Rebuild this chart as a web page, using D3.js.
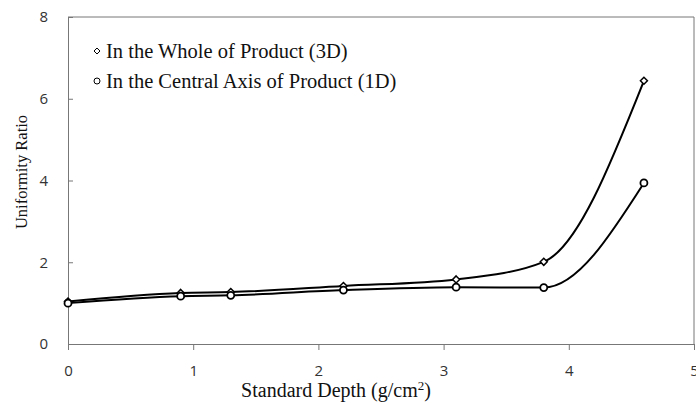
<!DOCTYPE html>
<html>
<head>
<meta charset="utf-8">
<script src="https://cdn.jsdelivr.net/npm/d3@7"></script>
<style>
  body { margin: 0; background: #fff; }
  .tick text { font-family: "Open Sans", sans-serif; font-size: 15px; fill: #333; }
  .title { font-family: "Liberation Serif", serif; fill: #111; }
  .legend { font-family: "Liberation Serif", serif; font-size: 20.5px; fill: #111; }
</style>
</head>
<body>
<div id="chart"></div>
<script>
const depths = [0, 0.9, 1.3, 2.2, 3.1, 3.8, 4.6];
const whole3D = [1.04, 1.25, 1.27, 1.42, 1.58, 2.01, 6.44];
const central1D = [1.0, 1.17, 1.19, 1.32, 1.39, 1.38, 3.94];
const xTicks = [0, 1, 2, 3, 4, 5];
const yTicks = [0, 2, 4, 6, 8];
const seriesNames = ['In the Whole of Product (3D)', 'In the Central Axis of Product (1D)'];

const width = 696, height = 403;
const margin = { top: 17, right: 2, bottom: 59, left: 68 };

const svg = d3.select('#chart').append('svg')
  .attr('width', width)
  .attr('height', height);

const x = d3.scaleLinear().domain([0, 5]).range([margin.left, width - margin.right]);
const y = d3.scaleLinear().domain([0, 8]).range([height - margin.bottom, margin.top]);

// frame (top + right)
svg.append('path')
  .attr('d', `M${x(0)},${y(8)}H${x(5)}V${y(0)}`)
  .attr('fill', 'none')
  .attr('stroke', '#777')
  .attr('stroke-width', 1);

const xAxis = svg.append('g')
  .attr('transform', `translate(0,${y(0)})`)
  .call(d3.axisBottom(x).tickValues(xTicks).tickFormat(d3.format('d')).tickSizeOuter(0).tickSize(6).tickPadding(15));

const yAxis = svg.append('g')
  .attr('transform', `translate(${x(0)},0)`)
  .call(d3.axisLeft(y).tickValues(yTicks).tickSizeOuter(0).tickSize(-5).tickPadding(20));

[xAxis, yAxis].forEach(ax => {
  ax.select('.domain').attr('stroke', '#777');
  ax.selectAll('.tick line').attr('stroke', '#777');
});

const line = d3.line()
  .x((d, i) => x(depths[i]))
  .y(d => y(d))
  .curve(d3.curveMonotoneX);

[whole3D, central1D].forEach(vals => {
  svg.append('path')
    .datum(vals)
    .attr('d', line)
    .attr('fill', 'none')
    .attr('stroke', '#000')
    .attr('stroke-width', 2);
});

const diamond = s => `M0,${-s}L${s},0L0,${s}L${-s},0Z`;

// markers
svg.selectAll('.m3d')
  .data(whole3D)
  .enter().append('path')
  .attr('class', 'm3d')
  .attr('transform', (d, i) => `translate(${x(depths[i])},${y(d)})`)
  .attr('d', diamond(3.5))
  .attr('fill', '#fff')
  .attr('stroke', '#000')
  .attr('stroke-width', 1.5);

svg.selectAll('.m1d')
  .data(central1D)
  .enter().append('circle')
  .attr('class', 'm1d')
  .attr('cx', (d, i) => x(depths[i]))
  .attr('cy', d => y(d))
  .attr('r', 3.5)
  .attr('fill', '#fff')
  .attr('stroke', '#000')
  .attr('stroke-width', 1.8);

// legend
const legend = svg.append('g').attr('transform', 'translate(97,51)');
seriesNames.forEach((name, i) => {
  const g = legend.append('g').attr('transform', `translate(0,${i * 30})`);
  if (i === 0) {
    g.append('path').attr('d', diamond(3)).attr('fill', '#fff').attr('stroke', '#000').attr('stroke-width', 1);
  } else {
    g.append('circle').attr('r', 3).attr('fill', '#fff').attr('stroke', '#000').attr('stroke-width', 1);
  }
  g.append('text')
    .attr('class', 'legend')
    .attr('x', 9)
    .attr('dy', '0.32em')
    .text(name);
});

// axis titles
const xt = svg.append('text')
  .attr('class', 'title')
  .attr('font-size', '20px')
  .attr('x', 336)
  .attr('y', 397)
  .attr('text-anchor', 'middle');
xt.append('tspan').text('Standard Depth (g/cm');
xt.append('tspan').attr('font-size', '13px').attr('dy', -7).text('2');
xt.append('tspan').attr('dy', 7).text(')');

svg.append('text')
  .attr('class', 'title')
  .attr('font-size', '16.5px')
  .attr('transform', 'translate(27,172) rotate(-90)')
  .attr('text-anchor', 'middle')
  .text('Uniformity Ratio');
</script>
</body>
</html>
